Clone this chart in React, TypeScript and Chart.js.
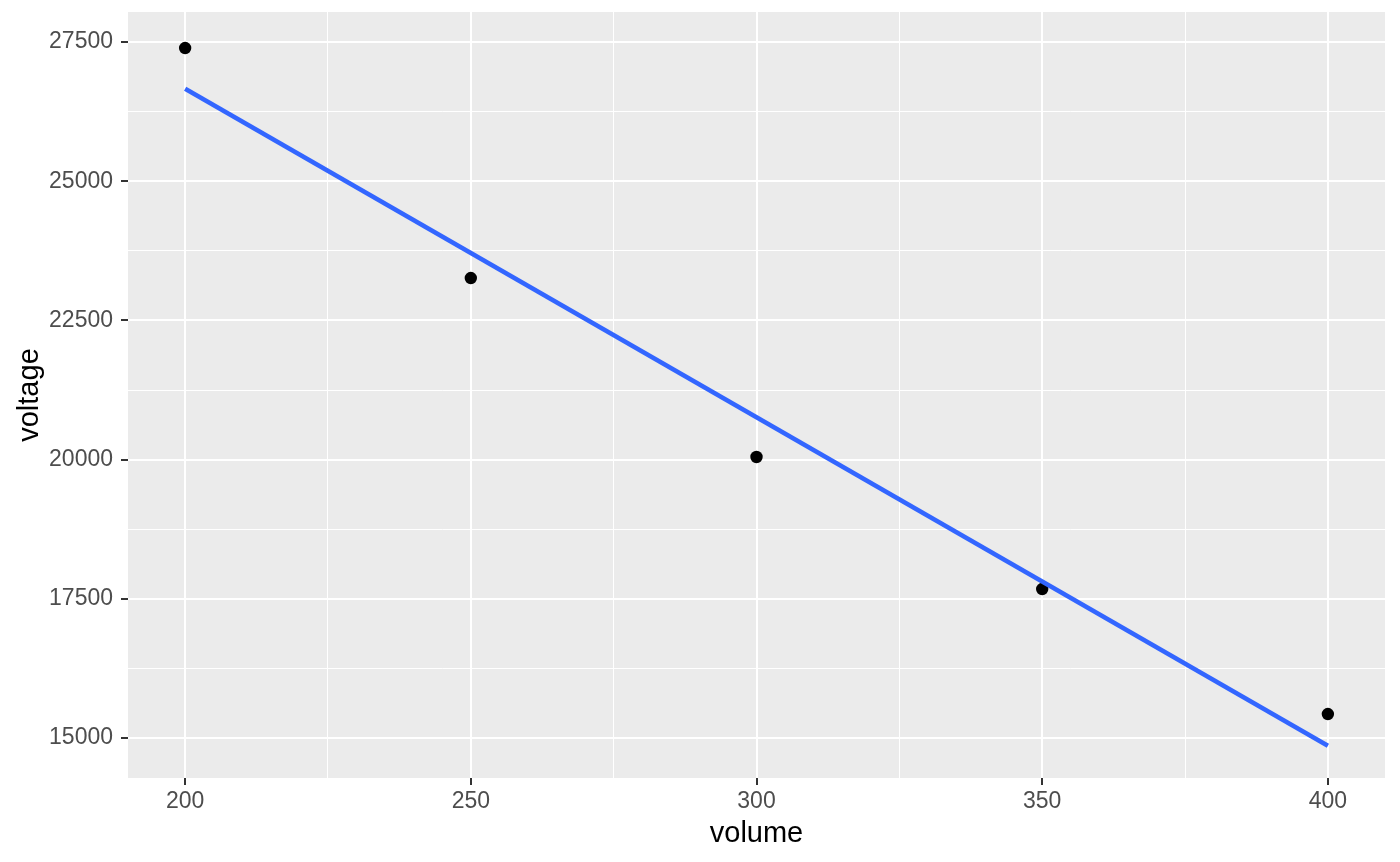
import React, { useEffect, useRef } from "react";
import { Chart, registerables } from "chart.js";

Chart.register(...registerables);

// Data
const volume = [200, 250, 300, 350, 400];
const voltage = [27392, 23261, 20047, 17676, 15431];
// Fitted regression line endpoints
const fitVolume = [200, 400];
const fitVoltage = [26660, 14860];

// Axis ticks
const xMajorTicks = [200, 250, 300, 350, 400];
const xMinorTicks = [225, 275, 325, 375];
const yMajorTicks = [15000, 17500, 20000, 22500, 25000, 27500];
const yMinorTicks = [16250, 18750, 21250, 23750, 26250];

const xTitle = "volume";
const yTitle = "voltage";

const FONT = "'Liberation Sans', Arial, Helvetica, sans-serif";

const panelBackground = {
  id: "panelBackground",
  beforeDraw(chart: any) {
    const { ctx, chartArea } = chart;
    ctx.save();
    ctx.fillStyle = "#EBEBEB";
    ctx.fillRect(chartArea.left, chartArea.top, chartArea.right - chartArea.left, chartArea.bottom - chartArea.top);
    ctx.restore();
  },
};

function buildTicks(major: number[], minor: number[]) {
  return [...major, ...minor]
    .sort((a, b) => a - b)
    .map((v) => ({ value: v, major: major.includes(v) }));
}

export default function App() {
  const canvasRef = useRef<HTMLCanvasElement | null>(null);

  useEffect(() => {
    if (!canvasRef.current) return;
    const isMajorX = (c: any) => c.tick && xMajorTicks.includes(c.tick.value);
    const isMajorY = (c: any) => c.tick && yMajorTicks.includes(c.tick.value);

    const chart = new Chart(canvasRef.current, {
      type: "scatter",
      data: {
        datasets: [
          {
            label: "fit",
            data: fitVolume.map((x, i) => ({ x, y: fitVoltage[i] })),
            showLine: true,
            borderColor: "#3366FF",
            borderWidth: 4.5,
            pointRadius: 0,
            order: 0,
          },
          {
            label: "points",
            data: volume.map((x, i) => ({ x, y: voltage[i] })),
            backgroundColor: "#000000",
            borderWidth: 0,
            pointRadius: 6.2,
            showLine: false,
            order: 1,
          },
        ],
      },
      options: {
        animation: false,
        responsive: false,
        devicePixelRatio: 1,
        layout: { padding: { left: 0, right: 15, top: 12, bottom: 0 } },
        plugins: {
          legend: { display: false },
          tooltip: { enabled: false },
        },
        scales: {
          x: {
            type: "linear",
            min: 190,
            max: 410,
            afterBuildTicks: (s: any) => {
              s.ticks = buildTicks(xMajorTicks, xMinorTicks);
            },
            afterFit: (s: any) => {
              s.height = 84;
              s.paddingLeft = 0;
              s.paddingRight = 0;
            },
            ticks: {
              autoSkip: false,
              maxRotation: 0,
              padding: 3,
              color: "#4D4D4D",
              font: { family: FONT, size: 23 },
              callback: (v: any) => (xMajorTicks.includes(Number(v)) ? String(v) : ""),
            },
            grid: {
              color: "#FFFFFF",
              lineWidth: (c: any) => (isMajorX(c) ? 2 : 1),
              tickColor: (c: any) => (isMajorX(c) ? "#333333" : "rgba(0,0,0,0)"),
              tickLength: 7,
              tickWidth: 2,
            },
            border: { display: false },
            title: {
              display: true,
              text: xTitle,
              color: "#000000",
              font: { family: FONT, size: 29 },
              padding: { top: 0, bottom: 11 },
            },
          },
          y: {
            type: "linear",
            min: 14282,
            max: 28039,
            afterBuildTicks: (s: any) => {
              s.ticks = buildTicks(yMajorTicks, yMinorTicks);
            },
            afterFit: (s: any) => {
              s.width = 128;
              s.paddingTop = 0;
              s.paddingBottom = 0;
            },
            ticks: {
              autoSkip: false,
              padding: 8,
              color: "#4D4D4D",
              font: { family: FONT, size: 23 },
              callback: (v: any) => (yMajorTicks.includes(Number(v)) ? String(v) : ""),
            },
            grid: {
              color: "#FFFFFF",
              lineWidth: (c: any) => (isMajorY(c) ? 2 : 1),
              tickColor: (c: any) => (isMajorY(c) ? "#333333" : "rgba(0,0,0,0)"),
              tickLength: 7,
              tickWidth: 2,
            },
            border: { display: false },
            title: {
              display: true,
              text: yTitle,
              color: "#000000",
              font: { family: FONT, size: 29 },
              padding: { top: 13, bottom: 0 },
            },
          },
        },
      },
      plugins: [panelBackground],
    } as any);

    return () => chart.destroy();
  }, []);

  return (
    <div style={{ position: "fixed", left: 0, top: 0, width: 1400, height: 862, background: "#FFFFFF" }}>
      <canvas ref={canvasRef} width={1400} height={862} style={{ display: "block" }} />
    </div>
  );
}
